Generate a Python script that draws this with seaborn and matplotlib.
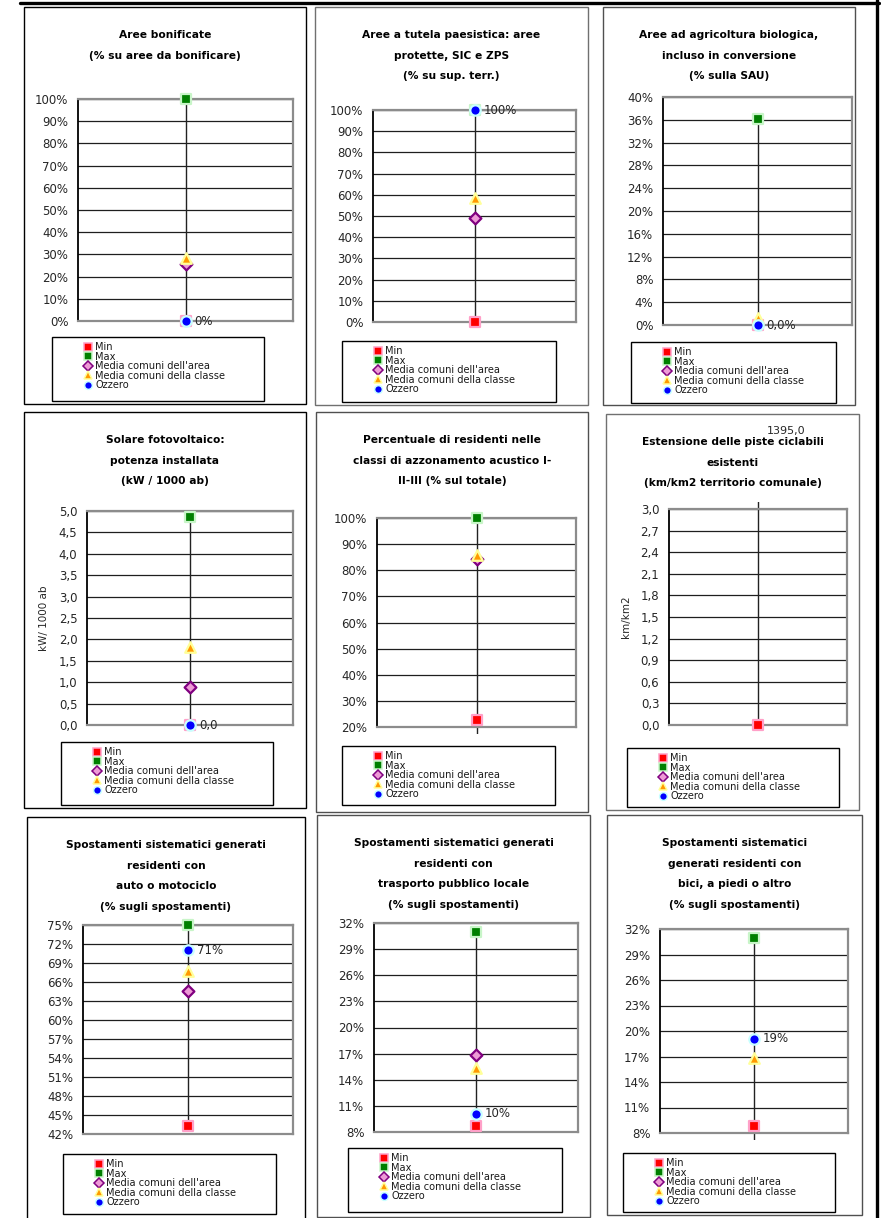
import numpy as np
import pandas as pd
import matplotlib
matplotlib.use("Agg")
import matplotlib.pyplot as plt
from matplotlib.patches import Rectangle
from matplotlib.lines import Line2D
from matplotlib.transforms import Bbox, TransformedBbox
import seaborn as sns

nan = np.nan

# ---- indicator data -------------------------------------------------------
titles = [
    ["Aree bonificate", "(% su aree da bonificare)"],
    ["Aree a tutela paesistica: aree", "protette, SIC e ZPS", "(% su sup. terr.)"],
    ["Aree ad agricoltura biologica,", "incluso in conversione", "(% sulla SAU)"],
    ["Solare fotovoltaico:", "potenza installata", "(kW / 1000 ab)"],
    ["Percentuale di residenti nelle", "classi di azzonamento acustico I-", "II-III (% sul totale)"],
    ["Estensione delle piste ciclabili", "esistenti", "(km/km2 territorio comunale)"],
    ["Spostamenti sistematici generati", "residenti con", "auto o motociclo", "(% sugli spostamenti)"],
    ["Spostamenti sistematici generati", "residenti con", "trasporto pubblico locale", "(% sugli spostamenti)"],
    ["Spostamenti sistematici", "generati residenti con", "bici, a piedi o altro", "(% sugli spostamenti)"],
]
y_axis_labels = ["", "", "", "kW/ 1000 ab", "", "km/km2", "", "", ""]

# axis range: (low, high, step)
y_ranges = [(0, 100, 10), (0, 100, 10), (0, 40, 4), (0, 5, 0.5), (20, 100, 10),
            (0, 3, 0.3), (42, 75, 3), (8, 32, 3), (8, 32, 3)]

series_names = ["Min", "Max", "Media comuni dell'area", "Media comuni della classe", "Ozzero"]
val_min    = [0.0,   0.0,  0.0,  0.0,  22.5, 0.0,    43.2, 8.7,  8.8]
val_max    = [100.0, 100.0, 36.2, 4.86, 100.0, 1395.0, 75.0, 31.0, 31.0]
val_area   = [25.6,  49.0, nan,  0.89, 84.4, nan,    64.6, 16.8, nan]
val_classe = [28.4,  58.5, 1.2,  1.82, 86.0, nan,    67.8, 15.4, 16.8]
val_ozzero = [0.0,   100.0, 0.0, 0.0,  nan,  1395.0, 71.0, 10.1, 19.1]

tick_kind  = ["pct0", "pct0", "pct0", "num1", "pct0", "num1", "pct0", "pct0", "pct0"]
label_kind = ["pct0", "pct0", "pct1", "num1", "pct0", "num1", "pct0", "pct0", "pct0"]

# ---- page layout (pixels, origin top-left) --------------------------------
W, H = 881, 1218
panel_boxes = [(24, 7, 306, 404), (315, 7, 588, 405), (603, 7, 855, 405),
               (24, 412, 306, 808), (316, 412, 588, 812), (606, 414, 859, 810),
               (27, 817, 305, 1225), (317, 815, 590, 1217), (607, 815, 862, 1215)]
plot_boxes = [(78, 99, 293, 321), (373, 110, 576, 322), (663, 97, 852, 325),
              (87, 511, 293, 725), (377, 518, 576, 727), (669, 509, 847, 725),
              (83, 925, 293, 1134), (374, 923, 578, 1132), (660, 929, 848, 1133)]
legend_boxes = [(52, 337, 264, 401), (342, 341, 556, 402), (631, 342, 836, 403),
                (61, 742, 273, 805), (342, 746, 555, 805), (627, 748, 839, 807),
                (63, 1154, 276, 1214), (348, 1148, 562, 1212), (623, 1153, 835, 1212)]
panel_border = ["black", "#707070", "#505050", "black", "#505050", "#707070",
                "black", "#505050", "#505050"]

styles = {
    "Min": dict(marker="s", face="#FF0000", edge="#FFA0C8", s=62, ms=6.0),
    "Max": dict(marker="s", face="#008000", edge="#C8F5C8", s=62, ms=6.0),
    "Media comuni dell'area": dict(marker="D", face="#EE9AD6", edge="#800080", s=36, ms=5.2),
    "Media comuni della classe": dict(marker="^", face="#FF9900", edge="#FFFF99", s=58, ms=6.0),
    "Ozzero": dict(marker="o", face="#0000FF", edge="#C8FFFF", s=56, ms=5.6),
}


def fmt(v, kind):
    if kind == "pct0":
        return f"{v:.0f}%"
    if kind == "pct1":
        return f"{v:.1f}%".replace(".", ",")
    return f"{v:.1f}".replace(".", ",")


def fx(x):
    return x / W


def fy(y):
    return 1 - y / H


sns.set_style("white")
plt.rcParams["font.family"] = ["DejaVu Sans"]

fig = plt.figure(figsize=(W / 100, H / 100), dpi=100)
fig.patch.set_facecolor("white")

# page frame
fig.add_artist(Line2D([fx(20), fx(879)], [fy(3), fy(3)], color="black", lw=2.4,
                      transform=fig.transFigure))
fig.add_artist(Line2D([fx(877), fx(877)], [fy(0), fy(H)], color="black", lw=2.4,
                      transform=fig.transFigure))

for i in range(9):
    bx0, by0, bx1, by1 = panel_boxes[i]
    fig.add_artist(Rectangle((fx(bx0), fy(by1)), fx(bx1 - bx0), (by1 - by0) / H,
                             transform=fig.transFigure, fill=False,
                             edgecolor=panel_border[i], lw=1.0))

    # title, one line at a time
    cx = (bx0 + bx1) / 2
    for k, line in enumerate(titles[i]):
        fig.text(fx(cx), fy(by0 + 28 + 20.7 * k), line, ha="center", va="center",
                 fontsize=7.7, fontweight="bold", color="black")

    px0, py0, px1, py1 = plot_boxes[i]
    ax = fig.add_axes([fx(px0), fy(py1), (px1 - px0) / W, (py1 - py0) / H])
    lo, hi, step = y_ranges[i]
    ax.set_ylim(lo, hi)
    ax.set_xlim(-1, 1)
    ticks = np.round(np.arange(lo, hi + step / 2, step), 6)
    ax.set_yticks(ticks)
    ax.set_yticklabels([fmt(t, tick_kind[i]) for t in ticks], fontsize=8.5)
    ax.set_xticks([])
    ax.tick_params(axis="y", direction="out", length=4, width=1.2, color="black", pad=3)
    ax.yaxis.grid(True, color="#1e1e1e", lw=0.9)
    ax.set_axisbelow(True)
    for side in ["top", "right", "bottom"]:
        ax.spines[side].set_color("#8c8c8c")
        ax.spines[side].set_linewidth(1.6)
    ax.spines["left"].set_color("black")
    ax.spines["left"].set_linewidth(1.3)

    vals = [val_min[i], val_max[i], val_area[i], val_classe[i], val_ozzero[i]]
    df = pd.DataFrame({"serie": series_names, "valore": vals, "x": 0.0})

    # high-low line joining the extremes (empty cells count as zero)
    filled = np.nan_to_num(np.array(vals, dtype=float))
    ln, = ax.plot([0, 0], [filled.min(), filled.max()], color="#222222", lw=1.0, zorder=2)
    dy = 7 / (py1 - py0)
    ln.set_clip_path(None)
    ln.set_clip_box(TransformedBbox(Bbox.from_extents(0, -dy, 1, 1 + dy), ax.transAxes))

    # markers, drawn in series order
    for z, name in enumerate(series_names):
        sub = df[(df["serie"] == name) & df["valore"].between(lo, hi)]
        if sub.empty:
            continue
        st = styles[name]
        sns.scatterplot(data=sub, x="x", y="valore", ax=ax, marker=st["marker"],
                        color=st["face"], edgecolor=st["edge"], s=st["s"],
                        linewidth=1.6, zorder=3 + z, clip_on=False, legend=False)
    ax.set_xlabel("")
    ax.set_ylabel(y_axis_labels[i], fontsize=7.5, labelpad=7)

    # data label for the municipality
    oz = val_ozzero[i]
    if not np.isnan(oz):
        text = fmt(oz, label_kind[i])
        if oz <= hi:
            ax.annotate(text, xy=(0, oz), xytext=(6.5, 0), textcoords="offset points",
                        ha="left", va="center", fontsize=8.5, annotation_clip=False,
                        zorder=10)
        else:
            ax.annotate(text, xy=(0, 1.36), xycoords=("data", "axes fraction"),
                        xytext=(6.5, 0), textcoords="offset points", ha="left",
                        va="center", fontsize=8.0, annotation_clip=False, zorder=10)

    # legend box
    lx0, ly0, lx1, ly1 = legend_boxes[i]
    fig.add_artist(Rectangle((fx(lx0), fy(ly1)), fx(lx1 - lx0), (ly1 - ly0) / H,
                             transform=fig.transFigure, fill=False,
                             edgecolor="black", lw=1.0))
    handles = [Line2D([], [], linestyle="none", marker=styles[n]["marker"],
                      markerfacecolor=styles[n]["face"], markeredgecolor=styles[n]["edge"],
                      markersize=styles[n]["ms"], markeredgewidth=1.1)
               for n in series_names]
    leg = ax.legend(handles, series_names, loc="upper left",
                    bbox_to_anchor=(fx(lx0 + 31), fy(ly0 + 5)),
                    bbox_transform=fig.transFigure, frameon=False, fontsize=7.1,
                    labelspacing=-0.04, handlelength=1.0, handletextpad=0.25,
                    borderpad=0, borderaxespad=0)
    for t in leg.get_texts():
        t.set_color("#1a1a1a")

fig.savefig("out.png", dpi=100, facecolor="white")
